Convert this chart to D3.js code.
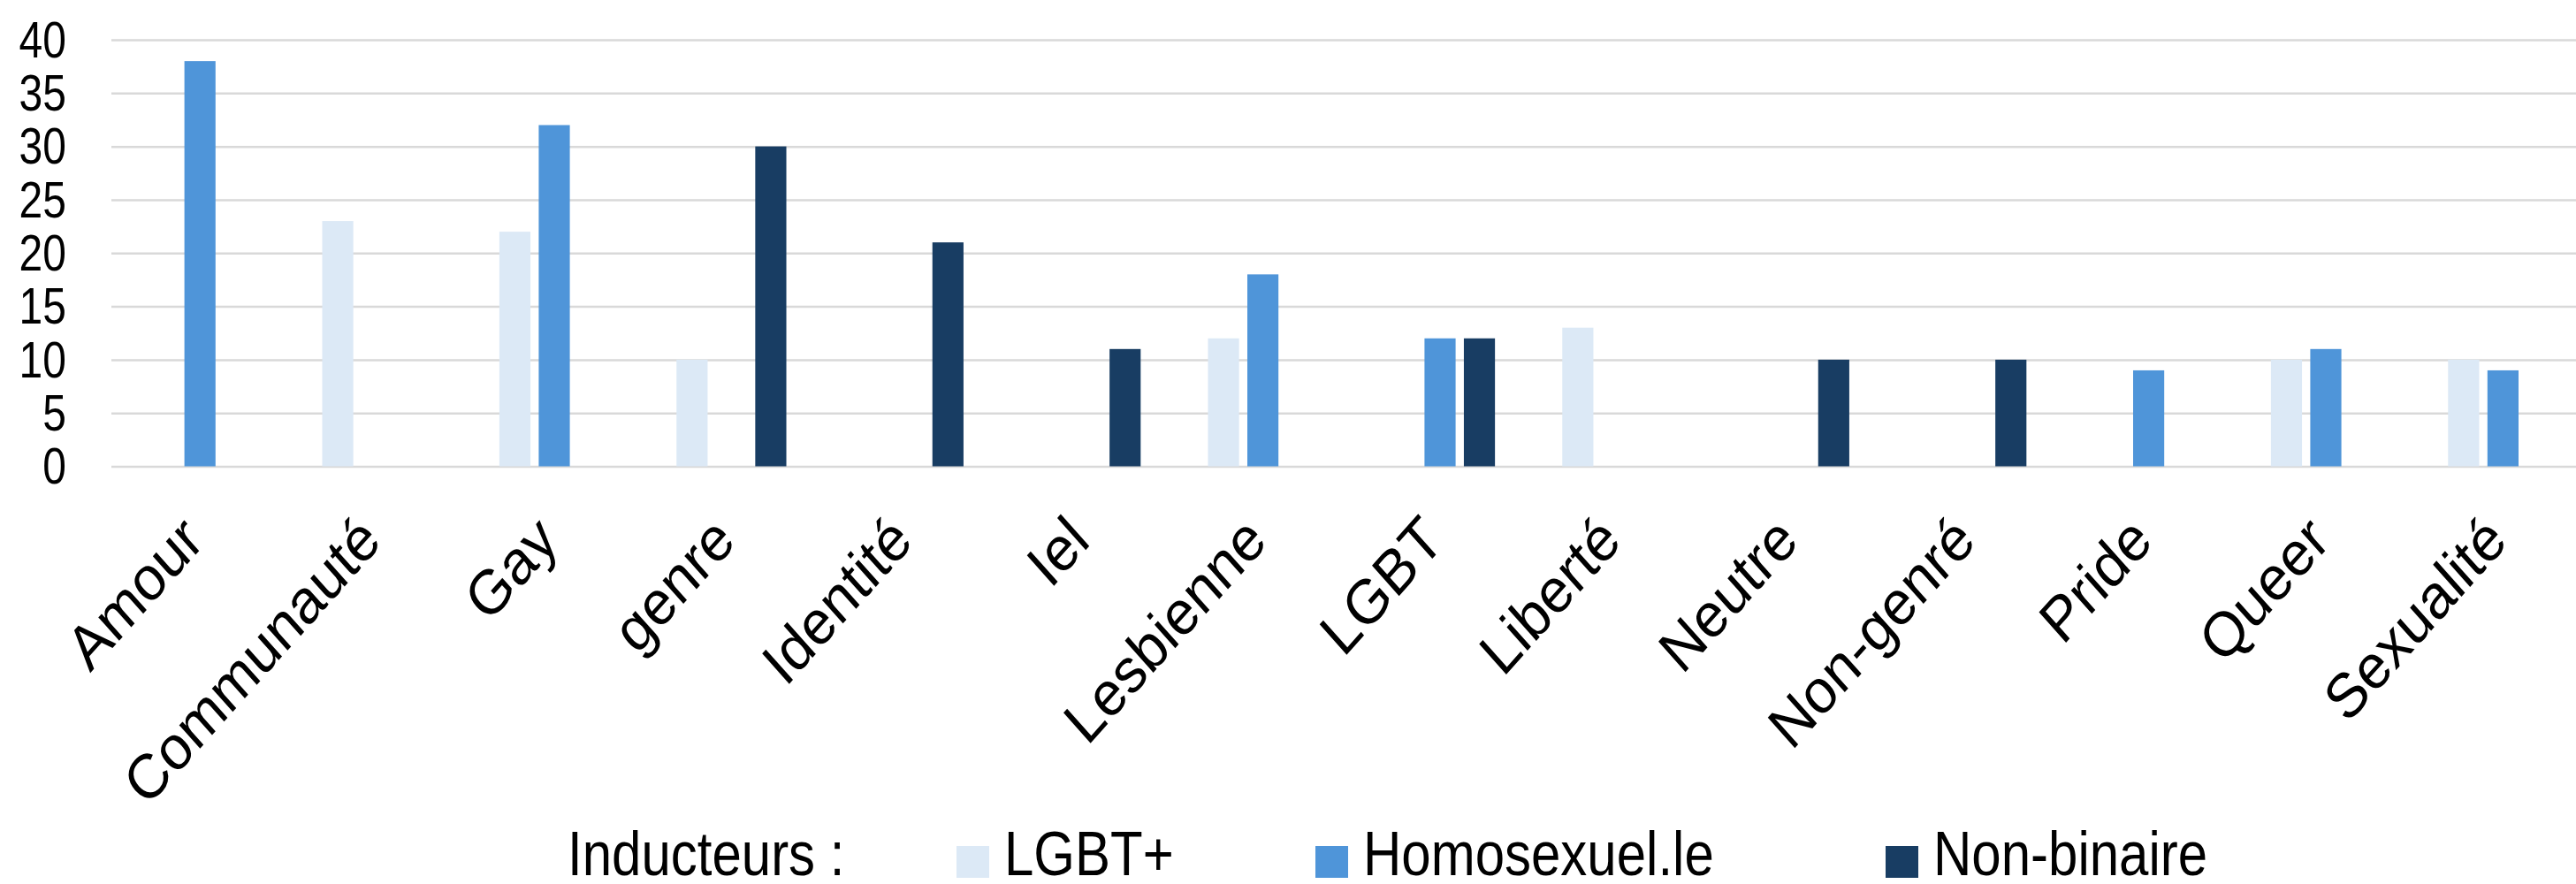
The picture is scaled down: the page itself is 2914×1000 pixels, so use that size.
<!DOCTYPE html>
<html>
<head>
<meta charset="utf-8">
<script src="https://cdn.jsdelivr.net/npm/d3@7"></script>
<style>
    body { margin: 0; background: #fff; }
    text { font-family: "Liberation Sans", Arial, sans-serif; fill: #000; }
</style>
</head>
<body>
<div id="chart"></div>
<script>
const categories = ["Amour", "Communauté", "Gay", "genre", "Identité", "Iel", "Lesbienne",
    "LGBT", "Liberté", "Neutre", "Non-genré", "Pride", "Queer", "Sexualité"];
const seriesNames = ["LGBT+", "Homosexuel.le", "Non-binaire"];
const lgbtValues = [0, 23, 22, 10, 0, 0, 12, 0, 13, 0, 0, 0, 10, 10];
const homoValues = [38, 0, 32, 0, 0, 0, 18, 12, 0, 0, 0, 9, 11, 9];
const nonBinaireValues = [0, 0, 0, 30, 21, 11, 0, 12, 0, 10, 10, 0, 0, 0];
const yTicks = [0, 5, 10, 15, 20, 25, 30, 35, 40];
const legendTitle = "Inducteurs :";

const w = 2914,
    h = 1000;

const plot = {left: 126, top: 45, bottom: 527.5, step: 200.4};

const colors = {
    "LGBT+": "#DCE9F6",
    "Homosexuel.le": "#4F95D9",
    "Non-binaire": "#183D63"
};

// the picture is a bit taller than wide, text is stretched to match
const stretch = 1.18;

// one row per category, one column per series
const seriesValues = [lgbtValues, homoValues, nonBinaireValues];
const rows = categories.map((c, i) => ({
    category: c,
    values: seriesNames.map((s, j) => ({series: s, value: seriesValues[j][i]}))
}));

const svg = d3.select("#chart")
    .append("svg")
    .attr("width", w)
    .attr("height", h);

svg.append("rect")
    .attr("width", w)
    .attr("height", h)
    .attr("fill", "#fff");

let x0 = d3.scaleBand()
    .domain(categories)
    .range([plot.left, plot.left + plot.step * categories.length])
    .paddingInner(0.38)
    .paddingOuter(0.19);

let x1 = d3.scaleBand()
    .domain(seriesNames)
    .range([0, x0.bandwidth()])
    .paddingInner(0.21);

let y = d3.scaleLinear()
    .domain([0, 40])
    .range([plot.bottom, plot.top]);

// gridlines + y labels
let yAxis = svg.append("g")
    .attr("transform", "translate(" + plot.left + ",0)")
    .call(d3.axisLeft(y)
        .tickValues(yTicks)
        .tickSize(-(w - plot.left + 40))
        .tickPadding(0));

yAxis.select(".domain").remove();
yAxis.selectAll(".tick line")
    .attr("stroke", "#D9D9D9")
    .attr("stroke-width", 2.5);
yAxis.selectAll(".tick text")
    .attr("font-size", "48px")
    .attr("font-family", "Liberation Sans, Arial, sans-serif")
    .attr("fill", "#000")
    .attr("x", 0)
    .attr("dy", "0.34em")
    .attr("transform", "translate(-51,0) scale(1," + stretch + ")");

// bars
let groups = svg.append("g")
    .selectAll("g.group")
    .data(rows)
    .enter().append("g")
    .attr("class", "group")
    .attr("transform", d => "translate(" + x0(d.category) + ",0)");

groups.selectAll("rect")
    .data(d => d.values.filter(v => v.value > 0))
    .enter().append("rect")
    .attr("x", d => x1(d.series))
    .attr("width", x1.bandwidth())
    .attr("y", d => y(d.value))
    .attr("height", d => y(0) - y(d.value))
    .attr("fill", d => colors[d.series]);

// category labels, rotated
let xAxis = svg.append("g")
    .attr("transform", "translate(0," + y(0) + ")")
    .call(d3.axisBottom(x0).tickSize(0).tickPadding(0));

xAxis.select(".domain").remove();
xAxis.selectAll(".tick text")
    .attr("font-size", "63px")
    .attr("font-family", "Liberation Sans, Arial, sans-serif")
    .attr("fill", "#000")
    .attr("text-anchor", "end")
    .attr("dy", 0)
    .attr("y", 0)
    .attr("transform", "translate(7,87) scale(1,1.12) rotate(-45)");

// legend
let legend = svg.append("g")
    .attr("class", "legend")
    .attr("font-size", "60px");

legend.append("text")
    .attr("transform", "translate(642,990) scale(1," + stretch + ")")
    .text(legendTitle);

const legendX = [1082, 1488, 2133];

let items = legend.selectAll("g.item")
    .data(seriesNames)
    .enter().append("g")
    .attr("class", "item")
    .attr("transform", (d, i) => "translate(" + legendX[i] + ",0)");

items.append("rect")
    .attr("y", 957)
    .attr("width", 37)
    .attr("height", 36)
    .attr("fill", d => colors[d]);

items.append("text")
    .attr("transform", "translate(54,990) scale(1," + stretch + ")")
    .text(d => d);
</script>
</body>
</html>
